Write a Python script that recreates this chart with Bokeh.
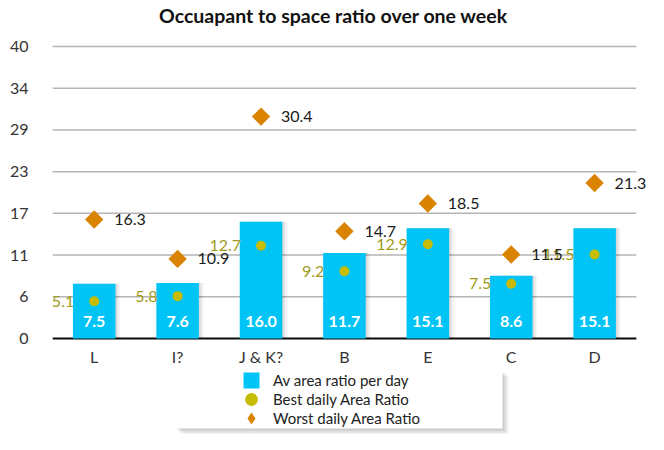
from bokeh.plotting import figure
from bokeh.models import (ColumnDataSource, Range1d, FixedTicker, Legend, LegendItem,
                          BoxAnnotation, LabelSet, Label)
from bokeh.core.properties import value
from bokeh.embed import file_html
from bokeh.resources import INLINE
import math

title_text = "Occuapant to space ratio over one week"
categories = ["L", "I?", "J & K?", "B", "E", "C", "D"]
av_ratio = [7.5, 7.6, 16.0, 11.7, 15.1, 8.6, 15.1]
best_ratio = [5.1, 5.8, 12.7, 9.2, 12.9, 7.5, 11.5]
worst_ratio = [16.3, 10.9, 30.4, 14.7, 18.5, 11.5, 21.3]
y_max = 40
y_tick_labels = ["0", "6", "11", "17", "23", "29", "34", "40"]
series_names = ["Av area ratio per day", "Best daily Area Ratio", "Worst daily Area Ratio"]

FONT = "Lato"
BAR = "#00c4f5"
BEST = "#c8bc00"
WORST = "#d98300"

ncat = len(categories)
x_pos = [i + 0.5 for i in range(ncat)]

src = ColumnDataSource(dict(
    x=x_pos, cat=categories, av=av_ratio, best=best_ratio, worst=worst_ratio,
    av_txt=[f"{v:.1f}" for v in av_ratio],
    best_txt=[f"{v:.1f}" for v in best_ratio],
    worst_txt=[f"{v:.1f}" for v in worst_ratio],
    zero=[0] * ncat,
))

p = figure(width=648, height=434, x_range=Range1d(0, 7.146), y_range=Range1d(-13.15, 46.3),
           output_backend="svg", toolbar_location=None,
           min_border_left=52, min_border_right=0, min_border_top=0, min_border_bottom=0)
p.outline_line_color = None
p.background_fill_color = "white"
p.border_fill_color = "white"
p.xaxis.visible = False

n = len(y_tick_labels) - 1
ticks = [y_max * i / n for i in range(n + 1)]
p.yaxis.ticker = FixedTicker(ticks=ticks)
p.yaxis.major_label_overrides = {t: lab for t, lab in zip(ticks, y_tick_labels)}
p.yaxis.axis_line_color = None
p.yaxis.major_tick_line_color = None
p.yaxis.minor_tick_line_color = None
p.yaxis.major_label_standoff = 18
p.yaxis.major_label_text_font = FONT
p.yaxis.major_label_text_font_size = "16px"
p.yaxis.major_label_text_color = "#333333"

p.xgrid.grid_line_color = None
p.ygrid.grid_line_color = None

# title (screen px relative to the plot frame)
p.add_layout(Label(x=281, y=419, x_units="screen", y_units="screen", text=title_text,
                   text_align="center", text_baseline="middle", text_font=FONT,
                   text_font_size="19.5px", text_font_style="bold", text_color="#111111"))

# gridlines and baseline across the categories
p.segment(x0=[0] * len(ticks), x1=[ncat] * len(ticks), y0=ticks, y1=ticks,
          line_color="#b5b5b5", line_width=1.5)
p.segment(x0=[0], x1=[ncat], y0=[0], y1=[0], line_color="#111111", line_width=2)

# soft bar shadows
for off, a in [(0.02, 0.07), (0.04, 0.05), (0.06, 0.03)]:
    p.vbar(x=[v + off for v in x_pos], top=av_ratio, width=0.51,
           fill_color="#000000", fill_alpha=a, line_color=None)

bars = p.vbar(x="x", top="av", width=0.51, source=src, fill_color=BAR, line_color=None)
best = p.scatter(x="x", y="best", source=src, marker="circle", size=10,
                 fill_color=BEST, line_color=None)
worst = p.scatter(x="x", y="worst", source=src, marker="square", size=13, angle=math.pi / 4,
                  fill_color=WORST, line_color=None)
# legend swatch for the worst series (legend markers are never rotated);
# its single point lies outside the visible ranges
worst_key = p.scatter(x=[-10], y=[-100], marker="diamond", size=10, fill_color=WORST,
                      line_color=None)

# category labels under the baseline
p.add_layout(LabelSet(x="x", y="zero", text="cat", source=src, text_align="center",
                      text_baseline="middle", y_offset=-18, text_color="#333333",
                      text_font=value(FONT), text_font_size="16px"))
p.add_layout(LabelSet(x="x", y="zero", text="av_txt", source=src, text_align="center",
                      text_baseline="middle", y_offset=17, text_color="white",
                      text_font=value(FONT), text_font_size="16px", text_font_style="bold"))
p.add_layout(LabelSet(x="x", y="best", text="best_txt", source=src, text_align="right",
                      text_baseline="middle", x_offset=-20, text_color="#a09a1a",
                      text_font=value(FONT), text_font_size="16px"))
p.add_layout(LabelSet(x="x", y="worst", text="worst_txt", source=src, text_align="left",
                      text_baseline="middle", x_offset=20, text_color="#1a1a1a",
                      text_font=value(FONT), text_font_size="16px"))

# legend box with soft shadow (screen px, relative to plot frame)
BL, BR, BB, BT = 123, 450, 6, 64
for d, a in [(6, 0.05), (4, 0.07), (2, 0.09)]:
    p.add_layout(BoxAnnotation(left=BL + d, right=BR + d, top=BT - d, bottom=BB - d,
                               left_units="screen", right_units="screen", top_units="screen",
                               bottom_units="screen", fill_color="black", fill_alpha=a,
                               line_color=None, level="annotation"))
p.add_layout(BoxAnnotation(left=BL, right=BR, top=BT, bottom=BB,
                           left_units="screen", right_units="screen", top_units="screen",
                           bottom_units="screen", fill_color="white", fill_alpha=1,
                           line_color=None, level="annotation"))

common = dict(padding=0, spacing=0, margin=0, background_fill_alpha=0, border_line_color=None,
              label_text_font=FONT, label_text_font_size="15px", label_text_color="#222222",
              label_height=20)
leg1 = Legend(items=[LegendItem(label=series_names[0], renderers=[bars])],
              location=(189, 44), glyph_width=20, glyph_height=20, label_standoff=12, **common)
leg2 = Legend(items=[LegendItem(label=series_names[1], renderers=[best])],
              location=(183, 19), glyph_width=32, glyph_height=32, label_standoff=6, **common)
leg3 = Legend(items=[LegendItem(label=series_names[2], renderers=[worst_key])],
              location=(184, 1), glyph_width=30, glyph_height=30, label_standoff=7, **common)
for lg in (leg1, leg2, leg3):
    p.add_layout(lg, "center")

open("out.html", "w").write(file_html(p, INLINE))
